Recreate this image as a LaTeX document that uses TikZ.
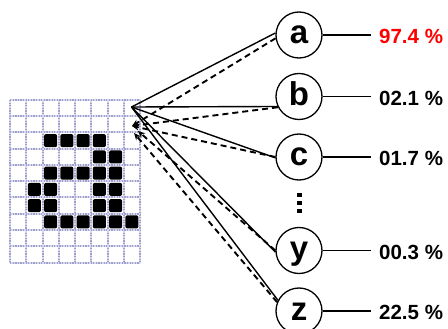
\documentclass[tikz,border=0pt]{standalone}
\usepackage{fontspec}
\setmainfont{Liberation Sans}
\usetikzlibrary{arrows.meta}
\definecolor{gridbase}{RGB}{215,215,238}
\definecolor{gridcol}{RGB}{160,160,205}
\definecolor{pctred}{RGB}{255,0,0}
\begin{document}
\begin{tikzpicture}[x=1pt,y=-1pt,
  gridunder/.style={draw=gridbase, line width=2pt},
  gridline/.style={draw=gridcol, line width=2pt, dash pattern=on 1.3pt off 1.3pt},
  pix/.style={fill=black, rounded corners=2pt},
  outc/.style={circle, draw, line width=1.3pt, minimum size=46pt, inner sep=0pt},
  letter/.style={font=\fontsize{33}{33}\selectfont\bfseries, inner sep=0pt, anchor=base},
  pct/.style={font=\fontsize{20.5}{20.5}\selectfont\bfseries, inner sep=0pt, anchor=base west},
  fwd/.style={line width=1.4pt},
  bwd/.style={line width=1.9pt, dash pattern=on 6pt off 4pt, -{Stealth[length=7pt,width=6pt]}},
]
\useasboundingbox[fill=white] (0,0) rectangle (448,329);
% input grid
\fill[white] (10,100) rectangle (140,262.5);
\foreach \i in {0,...,8} {
  \draw[gridunder] ({10+16.25*\i},100) -- ({10+16.25*\i},262.5);
  \draw[gridline] ({10+16.25*\i},100) -- ({10+16.25*\i},262.5);
}
\foreach \j in {0,...,10} {
  \draw[gridunder] (10,{100+16.25*\j}) -- (140,{100+16.25*\j});
  \draw[gridline] (10,{100+16.25*\j}) -- (140,{100+16.25*\j});
}
\foreach \r/\c in {2/2,2/3,2/4,2/5, 3/5,3/6, 4/2,4/3,4/4,4/5,4/6, 5/1,5/2,5/5,5/6, 6/1,6/2,6/5,6/6, 7/2,7/3,7/4,7/5,7/6,7/7}
  \fill[pix] ({10+16.25*\c+1.6},{100+16.25*\r+1.6}) rectangle +(13.05,13.05);
% output circles
\node[outc] (a) at (299,35) {};
\node[outc] (b) at (299,96.5) {};
\node[outc] (c) at (299,157) {};
\node[outc] (y) at (299,250.5) {};
\node[outc] (z) at (299,311) {};
\node[letter] (la) at (299,44) {a};
\node[letter] (lb) at (299,105.5) {b};
\node[letter] (lc) at (299,166) {c};
\node[letter] (ly) at (299,259.5) {y};
\node[letter] (lz) at (299,320) {z};
% vertical dots
\foreach \v in {193,201,209} \fill (296.5,\v) rectangle +(5.5,4.5);
% percentages
\node[pct, text=pctred] (pa) at (379,43.7) {97.4 \%};
\node[pct] (pb) at (379,105.2) {02.1 \%};
\node[pct] (pc) at (379,165.7) {01.7 \%};
\node[pct] (py) at (379,259.2) {00.3 \%};
\node[pct] (pz) at (379,319.7) {22.5 \%};
\foreach \n/\cy in {a/35,b/96.5,c/157,y/250.5,z/311} {
  \coordinate (e\n) at (371,\cy);
  \draw[fwd] (\n.east) -- (e\n);
}
% forward connections
\coordinate (src) at (131.5,107);
\draw[fwd] (src) -- (a.175);
\draw[fwd] (src) -- (b.205);
\draw[fwd] (src) -- (c.182);
\draw[fwd] (src) -- (y.184);
\draw[fwd] (src) -- (z.153);
% backward (dashed) connections
\coordinate (t1) at (132,126);
\coordinate (t2) at (138,131);
\coordinate (t3) at (134,133);
\draw[bwd] (a.188) -- (t1);
\draw[bwd] (b.207) -- (t1);
\draw[bwd] (c.180) -- (t1);
\draw[bwd] (y.180) -- (t2);
\draw[bwd] (z.158) -- (t3);
\end{tikzpicture}
\end{document}
